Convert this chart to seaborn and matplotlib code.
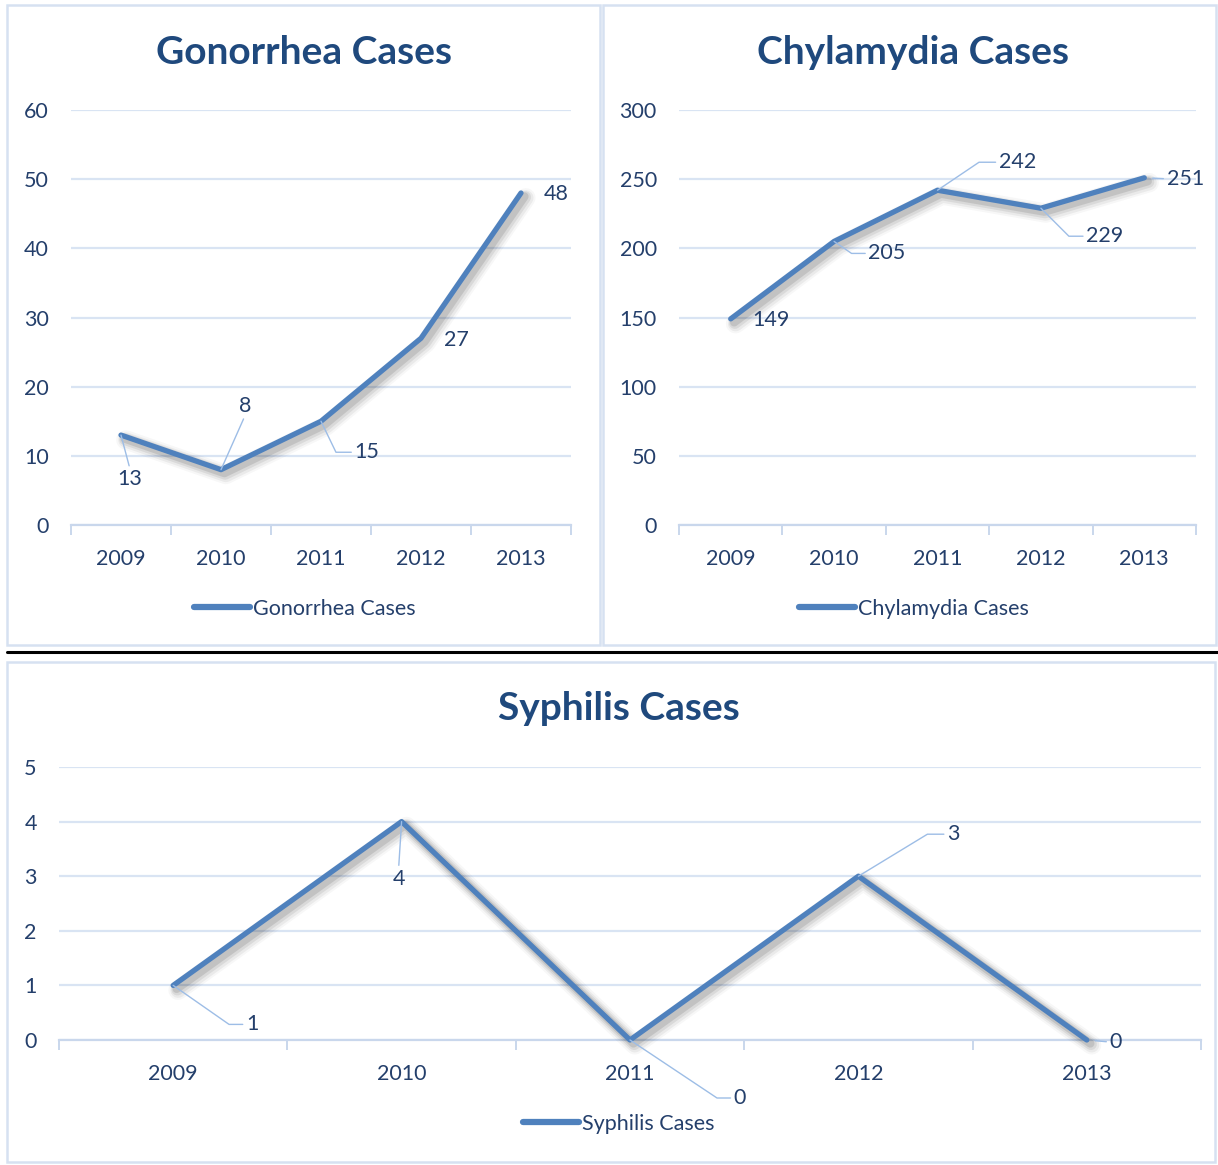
import numpy as np
import pandas as pd
import seaborn as sns
import matplotlib.pyplot as plt
import matplotlib.patheffects as pe
from matplotlib.lines import Line2D
from matplotlib.patches import Rectangle

# Data
years = ["2009", "2010", "2011", "2012", "2013"]
gonorrhea = [13, 8, 15, 27, 48]
chlamydia = [149, 205, 242, 229, 251]
syphilis = [1, 4, 0, 3, 0]

# Colours
LINE = "#4F81BD"
NAVY = "#1F497D"
TEXT = "#243F6B"
GRID = "#D9E4F3"
AXIS = "#C9D7EC"
LEADER = "#9DBDE6"
BORDER = "#D6E1F1"

W, H = 1218, 1165
FS = 15.5

sns.set_theme(style="white")
plt.rcParams['font.family'] = ['Lato', 'DejaVu Sans']

fig = plt.figure(figsize=(W / 100, H / 100), dpi=100)


def box(l, t, r, b):
    # pixel box -> figure fraction rect
    return [l / W, 1 - b / H, (r - l) / W, (b - t) / H]


# label placement: (dx, dy) text offset in pixels, kind, corner offset for kinked leaders
gon_labels = [((9, -44), "below", None), ((24, 64), "above", None), ((46, -31), "kink", (14, -29)),
              ((35, -2), "none", None), ((35, -1), "none", None)]
chl_labels = [((40, -1), "none", None), ((53, -12), "kink", (16, -11)), ((80, 28), "kink", (43, 29)),
              ((64, -28), "kink", (26, -26)), ((41, -1), "side", None)]
syp_labels = [((79, -39), "kink", (53, -37)), ((-3, -57), "below", None), ((110, -58), "kink", (84, -56)),
              ((95, 42), "kink", (69, 42)), ((29, -2), "side", None)]


def draw_panel(rect, name, values, ymax, ystep, title_xy, legend_xy, labels):
    ax = fig.add_axes(rect)
    df = pd.DataFrame({"pos": np.arange(len(years)), "cases": values})
    # soft drop shadow built from a few stacked translucent strokes
    shadow = [pe.SimpleLineShadow(offset=(3.5, -3.5), shadow_color="black", alpha=0.03, linewidth=14),
              pe.SimpleLineShadow(offset=(3.5, -3.5), shadow_color="black", alpha=0.05, linewidth=11),
              pe.SimpleLineShadow(offset=(3, -3), shadow_color="black", alpha=0.07, linewidth=8.5),
              pe.SimpleLineShadow(offset=(2.5, -2.5), shadow_color="black", alpha=0.10, linewidth=6),
              pe.Normal()]
    sns.lineplot(data=df, x="pos", y="cases", ax=ax, color=LINE, linewidth=3.8,
                 legend=False, clip_on=False, solid_capstyle="round", path_effects=shadow, zorder=3)

    ax.set_xlim(-0.5, len(years) - 0.5)
    ax.set_ylim(0, ymax)
    ax.set_yticks(np.arange(0, ymax + ystep, ystep))
    ax.set_xticks(np.arange(len(years)))
    ax.set_xticklabels(years)
    ax.set_xticks(np.arange(-0.5, len(years), 1), minor=True)
    ax.set_xlabel("")
    ax.set_ylabel("")
    ax.set_axisbelow(True)
    ax.grid(True, axis="y", color=GRID, linewidth=1.6)
    for s in ["left", "right", "top"]:
        ax.spines[s].set_visible(False)
    ax.spines["bottom"].set_color(AXIS)
    ax.spines["bottom"].set_linewidth(1.6)
    ax.tick_params(axis="x", which="major", length=0, pad=17, labelsize=FS, labelcolor=TEXT)
    ax.tick_params(axis="x", which="minor", bottom=True, length=7, width=1.4, color=AXIS, direction="out")
    ax.tick_params(axis="y", length=0, pad=16, labelsize=FS, labelcolor=TEXT)

    # data labels with leader lines
    for i, v in enumerate(values):
        (dx, dy), kind, corner = labels[i]
        kw = dict(xy=(i, v), xytext=(dx, dy), textcoords="offset pixels", ha="center", va="center",
                  fontsize=FS, color=TEXT, annotation_clip=False)
        if kind == "none":
            ax.annotate(str(v), **kw)
        elif kind == "kink":
            ang = np.degrees(np.arctan2(corner[1], corner[0]))
            ax.annotate(str(v), arrowprops=dict(arrowstyle="-", color=LEADER, lw=1, shrinkA=0, shrinkB=0,
                                                relpos=(0, 0.5),
                                                connectionstyle=f"angle,angleA=0,angleB={ang},rad=0"), **kw)
        elif kind == "side":
            ax.annotate(str(v), arrowprops=dict(arrowstyle="-", color=LEADER, lw=1, shrinkA=0, shrinkB=6,
                                                relpos=(0, 0.5)), **kw)
        else:
            rel = (0.5, 1) if kind == "below" else (0.5, 0)
            ax.annotate(str(v), arrowprops=dict(arrowstyle="-", color=LEADER, lw=1, shrinkA=0, shrinkB=0,
                                                relpos=rel), **kw)

    fig.text(title_xy[0] / W, 1 - title_xy[1] / H, name, ha="center", va="center",
             fontsize=28, fontweight="bold", color=NAVY)
    handle = Line2D([], [], color=LINE, linewidth=4.5, solid_capstyle="round")
    ax.legend(handles=[handle], labels=[name], loc="center",
              bbox_to_anchor=(legend_xy[0] / W, 1 - legend_xy[1] / H), bbox_transform=fig.transFigure,
              frameon=False, fontsize=FS, labelcolor=TEXT, handlelength=2.6, handletextpad=0.15)
    return ax


draw_panel(box(71, 110, 571, 525), "Gonorrhea Cases", gonorrhea, 60, 10, (304, 52), (305, 609), gon_labels)
draw_panel(box(679, 110, 1196, 525), "Chylamydia Cases", chlamydia, 300, 50, (913, 52), (914, 609), chl_labels)
draw_panel(box(59, 767, 1201, 1040), "Syphilis Cases", syphilis, 5, 1, (619, 709), (619, 1124), syp_labels)

# panel frames and separator
for (l, t, r, b) in [(7, 5, 600, 645), (603, 5, 1216, 645), (7, 662, 1215, 1162)]:
    fig.add_artist(Rectangle((l / W, 1 - b / H), (r - l) / W, (b - t) / H, transform=fig.transFigure,
                             fill=False, edgecolor=BORDER, linewidth=1.8))
fig.add_artist(Line2D([7 / W, 1], [1 - 652 / H, 1 - 652 / H], transform=fig.transFigure,
                      color="black", linewidth=2.2))

fig.savefig("out.png", dpi=100)
